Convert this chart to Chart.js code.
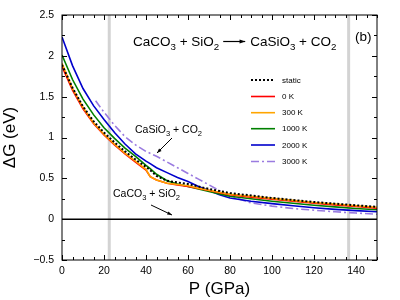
<!DOCTYPE html>
<html>
<head>
<meta charset="utf-8">
<script src="https://cdn.jsdelivr.net/npm/chart.js@4.4.0/dist/chart.umd.min.js"></script>
<style>
  html, body { margin: 0; padding: 0; background: #fff; }
  #wrap { width: 400px; height: 300px; }
</style>
</head>
<body>
<div id="wrap"><canvas id="chart" width="400" height="300"></canvas></div>
<script>
// Pressure grid (GPa) and free energy differences (eV)
const pressure = [0, 5, 10, 15, 20, 25, 30, 35, 40, 42, 45, 50, 55, 60, 65, 70, 75, 80, 90, 100, 110, 120, 130, 140, 150];
const gStatic = [1.89, 1.61, 1.38, 1.20, 1.06, 0.94, 0.83, 0.73, 0.64, 0.60, 0.53, 0.47, 0.45, 0.43, 0.40, 0.37, 0.345, 0.32, 0.29, 0.26, 0.235, 0.21, 0.19, 0.17, 0.15];
const g0K = [1.87, 1.58, 1.35, 1.17, 1.03, 0.91, 0.80, 0.70, 0.60, 0.52, 0.48, 0.44, 0.42, 0.40, 0.375, 0.35, 0.325, 0.30, 0.27, 0.245, 0.22, 0.195, 0.175, 0.155, 0.135];
const g300K = [1.91, 1.60, 1.37, 1.18, 1.04, 0.92, 0.81, 0.71, 0.61, 0.52, 0.48, 0.44, 0.425, 0.41, 0.38, 0.355, 0.33, 0.305, 0.28, 0.255, 0.23, 0.205, 0.185, 0.165, 0.145];
const g1000K = [2.01, 1.71, 1.47, 1.28, 1.12, 0.99, 0.87, 0.77, 0.66, 0.62, 0.55, 0.47, 0.43, 0.40, 0.37, 0.34, 0.31, 0.28, 0.25, 0.22, 0.195, 0.17, 0.15, 0.13, 0.115];
const g2000K = [2.23, 1.88, 1.60, 1.39, 1.22, 1.06, 0.92, 0.80, 0.71, 0.68, 0.63, 0.57, 0.51, 0.46, 0.40, 0.35, 0.30, 0.26, 0.22, 0.19, 0.165, 0.14, 0.12, 0.105, 0.09];
// 3000 K curve only starts at ~16 GPa
const pressure3000 = [16, 20, 25, 30, 35, 40, 45, 50, 55, 60, 65, 70, 75, 80, 90, 100, 110, 120, 130, 140, 150];
const g3000K = [1.45, 1.31, 1.15, 1.01, 0.91, 0.83, 0.77, 0.70, 0.63, 0.56, 0.49, 0.42, 0.35, 0.28, 0.20, 0.16, 0.13, 0.11, 0.09, 0.075, 0.06];
// grey vertical markers (GPa)
const markerPressures = [22.5, 136.5];
const xTickValues = [0, 20, 40, 60, 80, 100, 120, 140];
const legendLabels = ['static', '0 K', '300 K', '1000 K', '2000 K', '3000 K'];

const FONT = '"Liberation Sans", Arial, sans-serif';

function toPoints(xs, ys) {
    return xs.map((x, i) => ({ x: x, y: ys[i] }));
}

const series = [
    { label: 'static', data: gStatic, color: '#000000', dash: [2, 2], width: 2, order: 0 },
    { label: '300 K', data: g300K, color: '#ffa500', dash: [], width: 1.6, order: 1 },
    { label: '0 K', data: g0K, color: '#ff0000', dash: [], width: 1.6, order: 2 },
    { label: '1000 K', data: g1000K, color: '#008000', dash: [], width: 1.6, order: 3 },
    { label: '2000 K', data: g2000K, color: '#0000cc', dash: [], width: 1.6, order: 4 }
];

const datasets = series.map(s => ({
    label: s.label,
    data: toPoints(pressure, s.data),
    borderColor: s.color,
    borderDash: s.dash,
    borderWidth: s.width,
    pointRadius: 0,
    fill: false,
    tension: 0,
    order: s.order
}));

datasets.push({
    label: '3000 K',
    data: toPoints(pressure3000, g3000K),
    borderColor: '#9a7be0',
    borderDash: [8, 3, 2, 3],
    borderWidth: 1.6,
    pointRadius: 0,
    fill: false,
    order: 5
});

// zero line
datasets.push({
    label: 'zero',
    data: [{ x: 0, y: 0 }, { x: 150, y: 0 }],
    borderColor: '#000',
    borderWidth: 1.5,
    pointRadius: 0,
    order: 6
});

// grey marker lines
markerPressures.forEach(p => {
    datasets.push({
        label: 'marker',
        data: [{ x: p, y: -0.5 }, { x: p, y: 2.5 }],
        borderColor: '#d3d3d3',
        borderWidth: 3,
        pointRadius: 0,
        order: 7
    });
});

const legendStyles = {
    'static': { color: '#000', dash: [2, 2], width: 2 },
    '0 K': { color: '#ff0000', dash: [], width: 1.6 },
    '300 K': { color: '#ffa500', dash: [], width: 1.6 },
    '1000 K': { color: '#008000', dash: [], width: 1.6 },
    '2000 K': { color: '#0000cc', dash: [], width: 1.6 },
    '3000 K': { color: '#9a7be0', dash: [8, 3, 2, 3], width: 1.6 }
};

// draw text pieces, where a piece marked sub is drawn as a subscript
function drawChem(ctx, pieces, x, y, size) {
    ctx.textBaseline = 'alphabetic';
    ctx.textAlign = 'left';
    pieces.forEach(p => {
        if (p.sub) {
            ctx.font = (size * 0.72) + 'px ' + FONT;
            ctx.fillText(p.t, x, y + size * 0.28);
        } else {
            ctx.font = size + 'px ' + FONT;
            ctx.fillText(p.t, x, y);
        }
        x += ctx.measureText(p.t).width;
    });
    return x;
}

function arrow(ctx, x1, y1, x2, y2, head) {
    const a = Math.atan2(y2 - y1, x2 - x1);
    ctx.beginPath();
    ctx.moveTo(x1, y1);
    ctx.lineTo(x2, y2);
    ctx.stroke();
    ctx.beginPath();
    ctx.moveTo(x2, y2);
    ctx.lineTo(x2 - head * Math.cos(a - 0.35), y2 - head * Math.sin(a - 0.35));
    ctx.lineTo(x2 - head * Math.cos(a + 0.35), y2 - head * Math.sin(a + 0.35));
    ctx.closePath();
    ctx.fill();
}

// frame, inward ticks, x tick labels, annotations and legend
const decorPlugin = {
    id: 'decor',
    afterDatasetsDraw(chart) {
        const ctx = chart.ctx;
        const area = chart.chartArea;
        const xs = chart.scales.x;
        const ys = chart.scales.y;
        ctx.save();
        ctx.strokeStyle = '#000';
        ctx.fillStyle = '#000';
        ctx.lineWidth = 1;
        ctx.setLineDash([]);
        ctx.strokeRect(area.left, area.top, area.right - area.left, area.bottom - area.top);

        ctx.beginPath();
        for (let p = 0; p <= 150; p += 5) {
            const px = Math.round(xs.getPixelForValue(p)) + 0.5;
            const len = p % 20 === 0 ? 5 : 3;
            ctx.moveTo(px, area.bottom);
            ctx.lineTo(px, area.bottom - len);
            ctx.moveTo(px, area.top);
            ctx.lineTo(px, area.top + len);
        }
        for (let v = -0.5; v <= 2.5001; v += 0.25) {
            const py = Math.round(ys.getPixelForValue(v)) + 0.5;
            const len = Math.abs(v * 2 - Math.round(v * 2)) < 1e-6 ? 5 : 3;
            ctx.moveTo(area.left, py);
            ctx.lineTo(area.left + len, py);
            ctx.moveTo(area.right, py);
            ctx.lineTo(area.right - len, py);
        }
        ctx.stroke();

        // x tick labels
        ctx.font = '10.5px ' + FONT;
        ctx.textAlign = 'center';
        ctx.textBaseline = 'top';
        xTickValues.forEach(v => {
            ctx.fillText(String(v), xs.getPixelForValue(v), area.bottom + 6);
        });

        // reaction title
        const size = 13.5;
        let x = drawChem(ctx, [{ t: 'CaCO' }, { t: '3', sub: true }, { t: ' + SiO' }, { t: '2', sub: true }], 133, 46, size);
        ctx.lineWidth = 1.2;
        arrow(ctx, x + 4, 41.5, x + 26, 41.5, 6);
        drawChem(ctx, [{ t: 'CaSiO' }, { t: '3', sub: true }, { t: ' + CO' }, { t: '2', sub: true }], x + 31, 46, size);

        ctx.font = '13.5px ' + FONT;
        ctx.fillText('(b)', 355, 41);

        // phase labels
        drawChem(ctx, [{ t: 'CaSiO' }, { t: '3', sub: true }, { t: ' + CO' }, { t: '2', sub: true }], 135, 133, 10.5);
        drawChem(ctx, [{ t: 'CaCO' }, { t: '3', sub: true }, { t: ' + SiO' }, { t: '2', sub: true }], 113, 197, 10.5);
        ctx.lineWidth = 1;
        arrow(ctx, 172, 138, 157, 153, 5);
        arrow(ctx, 151, 205, 172, 215, 5);

        // legend
        const rows = [80, 96.5, 112.7, 128.7, 145, 161.5];
        legendLabels.forEach((lab, i) => {
            const st = legendStyles[lab];
            ctx.strokeStyle = st.color;
            ctx.lineWidth = st.width;
            ctx.setLineDash(st.dash);
            ctx.beginPath();
            ctx.moveTo(251, rows[i]);
            ctx.lineTo(275, rows[i]);
            ctx.stroke();
            ctx.setLineDash([]);
            ctx.fillStyle = '#000';
            ctx.font = '8px ' + FONT;
            ctx.textBaseline = 'middle';
            ctx.fillText(lab, 282, rows[i] + 0.5);
        });
        ctx.restore();
    }
};

new Chart(document.getElementById('chart'), {
    type: 'line',
    data: { datasets: datasets },
    options: {
        responsive: false,
        animation: false,
        layout: { padding: { top: 15, right: 23, left: 0, bottom: 0 } },
        plugins: { legend: { display: false }, tooltip: { enabled: false } },
        scales: {
            x: {
                type: 'linear',
                min: 0,
                max: 150,
                grid: { display: false, drawTicks: false },
                border: { display: false },
                ticks: { display: false },
                title: { display: true, text: 'P (GPa)', color: '#000', padding: 0, font: { family: FONT, size: 17 } },
                afterFit(scale) { scale.height = 40; }
            },
            y: {
                min: -0.5,
                max: 2.5,
                grid: { display: false, drawTicks: false },
                border: { display: false },
                ticks: {
                    stepSize: 0.5,
                    padding: 8,
                    color: '#000',
                    font: { family: FONT, size: 10.5 },
                    callback: v => (v < 0 ? '\u2212' + Math.abs(v) : String(v))
                },
                title: { display: true, text: '\u0394G (eV)', color: '#000', padding: 0, font: { family: FONT, size: 17 } },
                afterFit(scale) { scale.width = 62; }
            }
        }
    },
    plugins: [decorPlugin]
});
</script>
</body>
</html>
